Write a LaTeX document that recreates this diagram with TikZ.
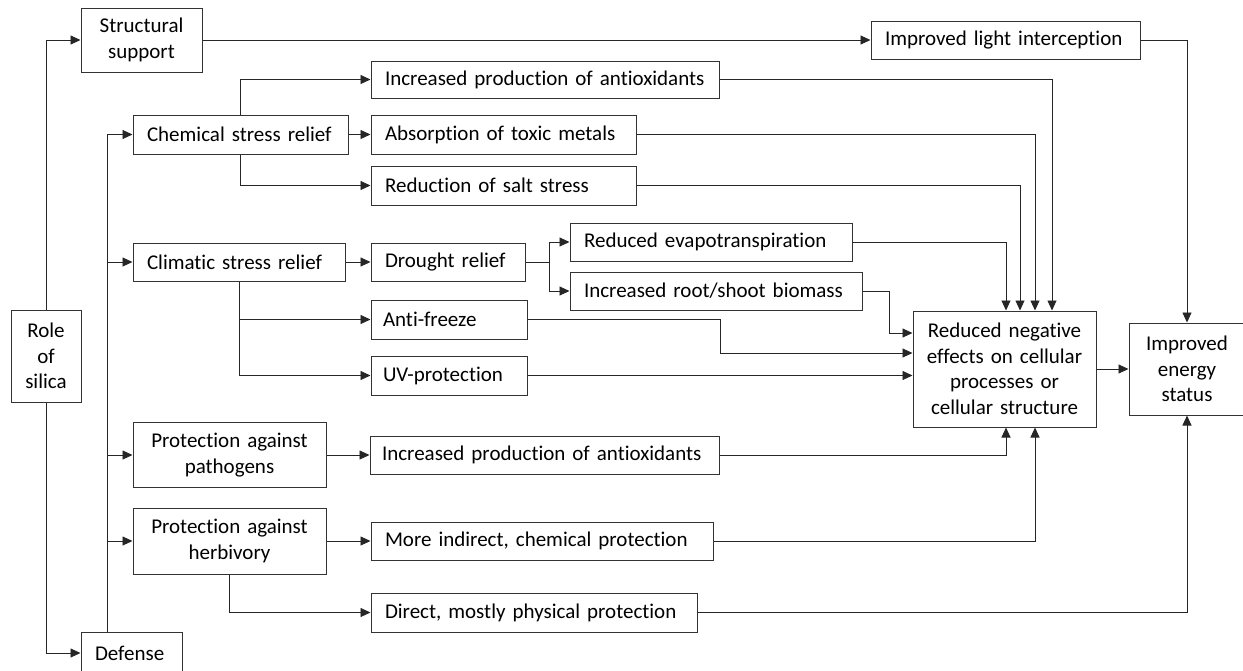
\documentclass[tikz,border=0pt]{standalone}
\usepackage{fontspec}
\setmainfont{Carlito}[Ligatures=NoCommon]
\usetikzlibrary{calc,arrows.meta}
\tikzset{
  box/.style={draw=black!80, line width=1pt, inner ysep=2pt},
  conn/.style={draw=black!85, line width=0.9pt, -{Triangle[length=10pt,width=9pt]}},
  link/.style={draw=black!85, line width=0.9pt}
}
\newcommand*{\SilicaBoxes}[1]{% #1 = list of name/x/y/width/height/padding/align/text
  \foreach \name/\x/\y/\w/\h/\pad/\al/\txt in {#1} {
    \pgfmathsetmacro{\tw}{\w-2*\pad}
    \node [box, inner xsep=\pad pt, text width=\tw pt, minimum height=\h pt, align=\al]
      (\name) at (\x,\y) {\txt};
    }%
}

\begin{document}
\begin{tikzpicture}[x=1pt, y=-1pt, font=\fontsize{21}{25.5}\selectfont]
  \useasboundingbox (0,0) rectangle (1243,670);
  \SilicaBoxes{role/46/356/70/92/3/center/Role\\of\\silica,
    struct/141.5/40/121/64/3/center/Structural\\support,
    defense/131.5/653/101/42/14/left/Defense,
    light/1005.5/40/269/38/14/left/Improved light interception}
  \SilicaBoxes{chem/240.5/134.5/215/39/14/left/Chemical stress relief,
    antiox1/545/79.5/348/37/14/left/Increased production of antioxidants,
    absorb/503.5/134.5/265/39/14/left/Absorption of toxic metals,
    salt/503.5/185.5/265/39/14/left/Reduction of salt stress}
  \SilicaBoxes{clim/239/262/212/38/14/left/Climatic stress relief,
    drought/448/262/154/38/14/left/Drought relief,
    evapo/711/242/282/38/14/left/Reduced evapotranspiration,
    root/716/291/292/38/14/left/{Increased root/shoot biomass},
    freeze/449/319.5/156/39/12/left/Anti-freeze,
    uv/449/375.5/156/39/12/left/UV-protection}
  \SilicaBoxes{reduced/1004.5/369/183/116/4/center/Reduced negative\\effects on cellular\\processes or\\cellular structure,
    energy/1187/369/116/92/4/center/Improved\\energy\\status}
  \SilicaBoxes{patho/229.5/455/193/65/6/center/Protection against\\pathogens,
    antiox2/544.5/455/349/38/12/left/Increased production of antioxidants,
    herb/229.5/541/193/66/6/center/Protection against\\herbivory,
    indirect/542/541/342/38/14/left/{More indirect, chemical protection},
    direct/534/612.5/326/39/14/left/{Direct, mostly physical protection}}

  % role of silica
  \draw[conn] (role.north) |- (struct.west);
  \draw[conn] (role.south) |- (defense.west);
  \draw[conn] (struct.east) -- (light.west);
  \draw[conn] (light.east) -| (energy.north);
  \coordinate (dtop) at ($(defense.north west)+(27,0)$);
  \foreach \n in {chem, clim, patho, herb}
    \draw[conn] (dtop) |- (\n.west);

  % stress relief
  \draw[conn] (chem.north) |- (antiox1.west);
  \draw[conn] (chem.east) -- (absorb.west);
  \draw[conn] (chem.south) |- (salt.west);
  \draw[conn] (clim.east) -- (drought.west);
  \draw[conn] (clim.south) |- (freeze.west);
  \draw[conn] (clim.south) |- (uv.west);
  \coordinate (dsplit) at ($(drought.east)+(24,0)$);
  \draw[link] (drought.east) -- (dsplit);
  \draw[conn] (dsplit) |- (evapo.west);
  \draw[conn] (dsplit) |- (root.west);

  % into reduced negative effects
  \coordinate (r1) at ($(reduced.north)+(1.5,0)$);
  \coordinate (r2) at ($(reduced.north)+(15.5,0)$);
  \coordinate (r3) at ($(reduced.north)+(30.5,0)$);
  \coordinate (r4) at ($(reduced.north)+(47.5,0)$);
  \draw[conn] (evapo.east) -| (r1);
  \draw[conn] (salt.east) -| (r2);
  \draw[conn] (absorb.east) -| (r3);
  \draw[conn] (antiox1.east) -| (r4);
  \draw[conn] (root.east) -- ++(27,0) |- ($(reduced.west)+(0,-36)$);
  \draw[conn] (freeze.east) -- ++(193,0) |- ($(reduced.west)+(0,-16)$);
  \draw[conn] (uv.east) -- (uv.east -| reduced.west);
  \draw[conn] (patho.east) -- (antiox2.west);
  \draw[conn] (herb.east) -- (indirect.west);
  \draw[conn] (herb.south) |- (direct.west);
  \draw[conn] (antiox2.east) -| ($(reduced.south)+(1.5,0)$);
  \draw[conn] (indirect.east) -| ($(reduced.south)+(30.5,0)$);
  \draw[conn] (reduced.east) -- (energy.west);
  \draw[conn] (direct.east) -| (energy.south);
\end{tikzpicture}
\end{document}
